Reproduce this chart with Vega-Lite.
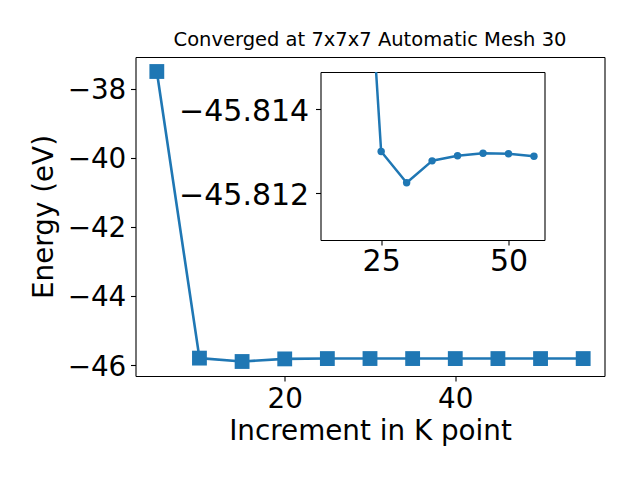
{
  "$schema": "https://vega.github.io/schema/vega-lite/v6.json",
  "background": "white",
  "padding": {"left": 30.5, "top": 29, "right": 5, "bottom": 5},
  "config": {
    "font": "DejaVu Sans",
    "view": {"stroke": null},
    "axis": {
      "grid": false,
      "domainColor": "black",
      "domainWidth": 1.1,
      "tickColor": "black",
      "tickWidth": 1.1,
      "tickSize": 5,
      "labelColor": "black",
      "titleColor": "black",
      "labelFont": "DejaVu Sans",
      "titleFont": "DejaVu Sans",
      "titleFontWeight": "normal",
      "labelFlush": false,
      "labelOverlap": false
    }
  },
  "datasets": {
    "kpts": [
      {"k": 5, "E": -37.506},
      {"k": 10, "E": -45.80},
      {"k": 15, "E": -45.898},
      {"k": 20, "E": -45.8225},
      {"k": 25, "E": -45.81299},
      {"k": 30, "E": -45.81225},
      {"k": 35, "E": -45.81277},
      {"k": 40, "E": -45.81289},
      {"k": 45, "E": -45.81295},
      {"k": 50, "E": -45.81294},
      {"k": 55, "E": -45.81288}
    ]
  },
  "title": {
    "text": "Converged at 7x7x7 Automatic Mesh 30",
    "fontSize": 19.5,
    "font": "DejaVu Sans",
    "fontWeight": "normal",
    "color": "black",
    "baseline": "alphabetic",
    "offset": -8,
    "anchor": "middle",
    "frame": "group"
  },
  "width": 469,
  "height": 304,
  "data": {"name": "kpts"},
  "layer": [
    {
      "layer": [
        {
          "mark": {"type": "line", "color": "#1f77b4", "strokeWidth": 2.6, "strokeJoin": "round"},
          "encoding": {
            "x": {
              "field": "k",
              "type": "quantitative",
              "scale": {"domain": [2.5, 57.5], "range": [0, 469], "nice": false, "zero": false},
              "axis": {
                "title": "Increment in K point",
                "orient": "bottom",
                "values": [20, 40],
                "format": "d",
                "labelFontSize": 27.8,
                "titleFontSize": 27.8,
                "labelPadding": 4,
                "titlePadding": 5
              }
            },
            "y": {
              "field": "E",
              "type": "quantitative",
              "scale": {"domain": [-46.3176, -37.0864], "range": [304, -15], "nice": false, "zero": false},
              "axis": {
                "title": "Energy (eV)",
                "orient": "left",
                "values": [-46, -44, -42, -40, -38],
                "format": "d",
                "labelFontSize": 27.8,
                "titleFontSize": 27.8,
                "labelPadding": 4.7,
                "labelOffset": 2,
                "titlePadding": 8.3
              }
            }
          }
        },
        {
          "mark": {"type": "square", "color": "#1f77b4", "size": 220, "opacity": 1, "filled": true},
          "encoding": {
            "x": {
              "field": "k",
              "type": "quantitative",
              "scale": {"domain": [2.5, 57.5], "range": [0, 469], "nice": false, "zero": false},
              "axis": {"title": null, "orient": "top", "offset": 15, "labels": false, "ticks": false}
            },
            "y": {
              "field": "E",
              "type": "quantitative",
              "scale": {"domain": [-46.3176, -37.0864], "range": [304, -15], "nice": false, "zero": false},
              "axis": {"title": null, "orient": "right", "labels": false, "ticks": false}
            }
          }
        }
      ],
      "resolve": {"axis": {"x": "independent", "y": "independent"}}
    },
    {
      "transform": [{"filter": "datum.k >= 20"}],
      "layer": [
        {
          "mark": {"type": "line", "color": "#1f77b4", "strokeWidth": 2.5, "strokeJoin": "round", "clip": true},
          "encoding": {
            "x": {
              "field": "k",
              "type": "quantitative",
              "scale": {"domain": [13.09, 57.07], "range": [185, 409], "nice": false, "zero": false},
              "axis": {
                "title": null,
                "orient": "bottom",
                "offset": -136,
                "values": [25, 50],
                "format": "d",
                "labelFontSize": 30,
                "labelPadding": 1.5
              }
            },
            "y": {
              "field": "E",
              "type": "quantitative",
              "scale": {"domain": [-45.81488, -45.81089], "range": [0, 168], "nice": false, "zero": false},
              "axis": {
                "title": null,
                "orient": "left",
                "offset": -185,
                "values": [-45.814, -45.812],
                "format": ".3f",
                "labelFontSize": 30,
                "labelPadding": 6.8,
                "labelOffset": 2
              }
            }
          }
        },
        {
          "mark": {"type": "circle", "color": "#1f77b4", "size": 55, "opacity": 1, "clip": true},
          "encoding": {
            "x": {
              "field": "k",
              "type": "quantitative",
              "scale": {"domain": [13.09, 57.07], "range": [185, 409], "nice": false, "zero": false},
              "axis": {"title": null, "orient": "top", "labels": false, "ticks": false}
            },
            "y": {
              "field": "E",
              "type": "quantitative",
              "scale": {"domain": [-45.81488, -45.81089], "range": [0, 168], "nice": false, "zero": false},
              "axis": {"title": null, "orient": "right", "offset": -60, "labels": false, "ticks": false}
            }
          }
        }
      ],
      "resolve": {"axis": {"x": "independent", "y": "independent"}}
    }
  ],
  "resolve": {
    "scale": {"x": "independent", "y": "independent"},
    "axis": {"x": "independent", "y": "independent"}
  }
}
